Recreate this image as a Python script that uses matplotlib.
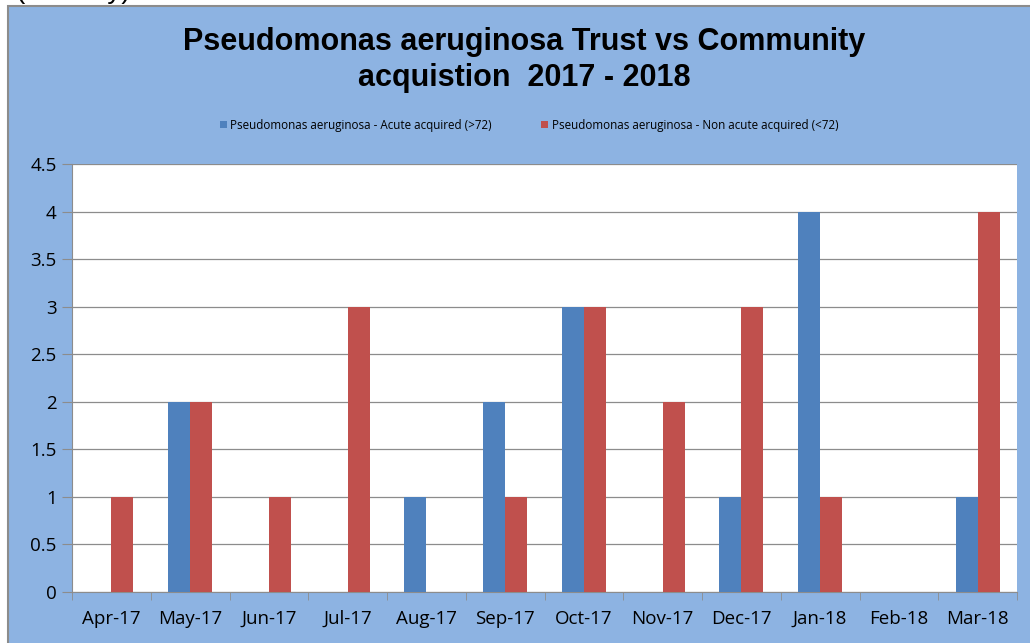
import numpy as np
import matplotlib.pyplot as plt
from matplotlib.patches import Rectangle

months = ["Apr-17", "May-17", "Jun-17", "Jul-17", "Aug-17", "Sep-17",
          "Oct-17", "Nov-17", "Dec-17", "Jan-18", "Feb-18", "Mar-18"]
acute = [0, 2, 0, 0, 1, 2, 3, 0, 1, 4, 0, 1]
non_acute = [1, 2, 1, 3, 0, 1, 3, 2, 3, 1, 0, 4]
labels = ["Pseudomonas aeruginosa - Acute acquired (>72)",
          "Pseudomonas aeruginosa - Non acute acquired (<72)"]

bg = "#8DB3E2"
blue = "#4F81BD"
red = "#C0504D"

fig = plt.figure(figsize=(10.30, 6.43), dpi=100)
fig.patch.set_facecolor("white")
fig.patches.append(Rectangle((8 / 1030, -0.05), 1.1, 1 - 6 / 643 + 0.05,
                             transform=fig.transFigure, facecolor=bg,
                             edgecolor="#8C8C8C", linewidth=1.5, zorder=-5))
fig.text(15 / 1030, 1 + 9 / 643, "(Monthly)", fontsize=20,
         family="Liberation Sans", va="center", ha="left")

ax = fig.add_axes([72 / 1030, 1 - 592 / 643, (1017 - 72) / 1030, (592 - 164) / 643])
ax.set_facecolor("white")
ax.set_zorder(2)

x = np.arange(len(months))
w = 0.28
ax.bar(x - w / 2, acute, w, color=blue, label=labels[0], zorder=3)
ax.bar(x + w / 2, non_acute, w, color=red, label=labels[1], zorder=3)

ax.set_xlim(-0.5, len(months) - 0.5)
ax.set_ylim(0, 4.5)
ax.set_yticks(np.arange(0, 4.51, 0.5))
ax.set_yticklabels(["0", "0.5", "1", "1.5", "2", "2.5", "3", "3.5", "4", "4.5"],
                   fontsize=13.5, family="Open Sans")
ax.yaxis.grid(True, color="#8C8C8C", linewidth=0.9, zorder=0)

ax.set_xticks(x)
ax.set_xticklabels(months, fontsize=13.5, family="Open Sans")
ax.set_xticks(np.arange(-0.5, len(months), 1), minor=True)
ax.tick_params(axis="x", which="major", length=0, pad=13)
ax.tick_params(axis="x", which="minor", length=6, color="#8C8C8C", direction="out")
ax.tick_params(axis="y", length=7, color="#8C8C8C", pad=4)

for s in ["top", "right"]:
    ax.spines[s].set_visible(False)
for s in ["left", "bottom"]:
    ax.spines[s].set_color("#8C8C8C")

fig.text(524 / 1030, 1 - 60 / 643, "Pseudomonas aeruginosa Trust vs Community\nacquistion  2017 - 2018",
         ha="center", va="center", fontsize=22, fontweight="bold",
         family="Liberation Sans", linespacing=1.22)

fig.legend(loc="center", bbox_to_anchor=(529 / 1030, 1 - 125 / 643), ncol=2,
           frameon=False, handlelength=0.6, handleheight=0.6,
           handletextpad=0.3, columnspacing=4.2,
           prop={"family": "Open Sans", "size": 8.4})

fig.savefig("out.png", dpi=100)
